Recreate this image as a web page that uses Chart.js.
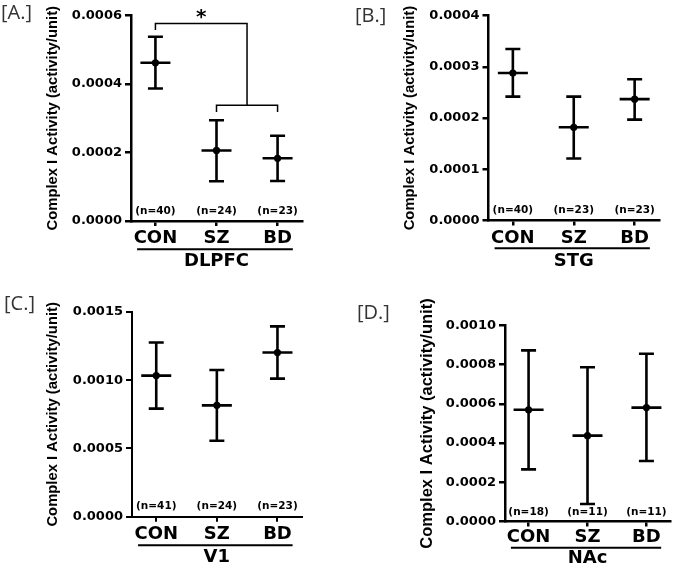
<!DOCTYPE html>
<html>
<head>
<meta charset="utf-8">
<script src="https://cdn.jsdelivr.net/npm/chart.js@4/dist/chart.umd.min.js"></script>
<style>
  html, body { margin: 0; padding: 0; background: #fff; }
  #wrap { position: relative; width: 674px; height: 564px; overflow: hidden; }
  .panel { position: absolute; width: 337px; height: 282px; }
  .tag { position: absolute; font-family: "Open Sans", sans-serif; font-size: 20px; line-height: 20px; color: #333; white-space: nowrap; }
</style>
</head>
<body>
<div id="wrap">
  <div class="panel" style="left:0;top:0"><canvas id="chartA" width="337" height="282"></canvas></div>
  <div class="panel" style="left:337px;top:0"><canvas id="chartB" width="337" height="282"></canvas></div>
  <div class="panel" style="left:0;top:282px"><canvas id="chartC" width="337" height="282"></canvas></div>
  <div class="panel" style="left:337px;top:282px"><canvas id="chartD" width="337" height="282"></canvas></div>
  <div class="tag" style="left:1px;top:2px">[A.]</div>
  <div class="tag" style="left:355px;top:5px">[B.]</div>
  <div class="tag" style="left:4px;top:293px">[C.]</div>
  <div class="tag" style="left:357px;top:302px">[D.]</div>
</div>
<script>
// data: mean +/- error per group, per brain region
var categories = ["CON", "SZ", "BD"];
var yTitle = "Complex I Activity (activity/unit)";

var dlpfcMean  = [0.000462, 0.000206, 0.000183];
var dlpfcUpper = [0.000538, 0.000294, 0.000249];
var dlpfcLower = [0.000387, 0.000116, 0.000117];
var dlpfcN     = ["(n=40)", "(n=24)", "(n=23)"];
var dlpfcTicks = [0, 0.0002, 0.0004, 0.0006];

var stgMean  = [0.000288, 0.000182, 0.000237];
var stgUpper = [0.000335, 0.000242, 0.000276];
var stgLower = [0.000242, 0.000121, 0.000197];
var stgN     = ["(n=40)", "(n=23)", "(n=23)"];
var stgTicks = [0, 0.0001, 0.0002, 0.0003, 0.0004];

var v1Mean  = [0.001034, 0.000816, 0.001203];
var v1Upper = [0.001276, 0.001075, 0.001395];
var v1Lower = [0.000792, 0.000557, 0.001012];
var v1N     = ["(n=41)", "(n=24)", "(n=23)"];
var v1Ticks = [0, 0.0005, 0.0010, 0.0015];

var nacMean  = [0.000570, 0.000438, 0.000581];
var nacUpper = [0.000873, 0.000787, 0.000856];
var nacLower = [0.000266, 0.000089, 0.000309];
var nacN     = ["(n=18)", "(n=11)", "(n=11)"];
var nacTicks = [0, 0.0002, 0.0004, 0.0006, 0.0008, 0.0010];

// significance bracket in DLPFC: CON vs (SZ, BD)
var sigTopY = 0.000577;
var sigConDropY = 0.000558;
var sigPairY = 0.000338;
var sigPairDropY = 0.000318;

var BOLD = "'DejaVu Sans', sans-serif";

function makeDecor(p) {
  return {
    id: "decor" + p.id,
    afterDatasetsDraw: function (chart) {
      var xs = chart.scales.x, ys = chart.scales.y, ctx = chart.ctx;
      ctx.save();
      ctx.strokeStyle = "#000";
      ctx.lineWidth = 2.6;
      p.mean.forEach(function (m, i) {
        var x = xs.getPixelForValue(i);
        var yHi = ys.getPixelForValue(p.upper[i]);
        var yLo = ys.getPixelForValue(p.lower[i]);
        var yM = ys.getPixelForValue(m);
        ctx.beginPath();
        ctx.moveTo(x, yHi); ctx.lineTo(x, yLo);
        ctx.moveTo(x - 7.5, yHi); ctx.lineTo(x + 7.5, yHi);
        ctx.moveTo(x - 7.5, yLo); ctx.lineTo(x + 7.5, yLo);
        ctx.moveTo(x - 15, yM); ctx.lineTo(x + 15, yM);
        ctx.stroke();
      });
      ctx.restore();
    },
    afterDraw: function (chart) {
      var xs = chart.scales.x, ys = chart.scales.y, ctx = chart.ctx;
      var bottom = chart.chartArea.bottom;
      ctx.save();
      ctx.fillStyle = "#000";
      ctx.textAlign = "center";
      ctx.textBaseline = "middle";
      ctx.font = "bold 10.5px " + BOLD;
      p.n.forEach(function (t, i) {
        ctx.fillText(t, xs.getPixelForValue(i), bottom - p.nOff);
      });
      // group underline + region name
      ctx.strokeStyle = "#000";
      ctx.lineWidth = 2;
      ctx.beginPath();
      ctx.moveTo(xs.getPixelForValue(-0.3), bottom + p.lineOff);
      ctx.lineTo(xs.getPixelForValue(2.25), bottom + p.lineOff);
      ctx.stroke();
      ctx.font = "bold 18px " + BOLD;
      ctx.fillText(p.group, xs.getPixelForValue(1), bottom + p.groupOff);
      if (p.sig) {
        ctx.lineWidth = 1.5;
        var yt = ys.getPixelForValue(sigTopY);
        var yp = ys.getPixelForValue(sigPairY);
        ctx.beginPath();
        ctx.moveTo(xs.getPixelForValue(0), ys.getPixelForValue(sigConDropY));
        ctx.lineTo(xs.getPixelForValue(0), yt);
        ctx.lineTo(xs.getPixelForValue(1.5), yt);
        ctx.lineTo(xs.getPixelForValue(1.5), yp);
        ctx.moveTo(xs.getPixelForValue(1), ys.getPixelForValue(sigPairDropY));
        ctx.lineTo(xs.getPixelForValue(1), yp);
        ctx.lineTo(xs.getPixelForValue(2), yp);
        ctx.lineTo(xs.getPixelForValue(2), ys.getPixelForValue(sigPairDropY));
        ctx.stroke();
        ctx.font = "bold 20px " + BOLD;
        ctx.textBaseline = "alphabetic";
        ctx.fillText("*", xs.getPixelForValue(0.75), yt - 0.5);
      }
      ctx.restore();
    }
  };
}

function build(p) {
  var W = 337, H = 282, xH = 40;
  new Chart(document.getElementById(p.canvas), {
    type: "scatter",
    data: {
      datasets: [{
        data: p.mean.map(function (m, i) { return { x: i, y: m }; }),
        pointRadius: 3.6,
        pointBackgroundColor: "#000",
        pointBorderWidth: 0
      }]
    },
    options: {
      responsive: false,
      animation: false,
      events: [],
      layout: { padding: { left: 0, top: p.area.top, right: W - p.area.right, bottom: H - p.area.bottom - xH } },
      plugins: { legend: { display: false }, tooltip: { enabled: false } },
      scales: {
        x: {
          type: "linear",
          min: -0.4,
          max: 2.4,
          afterBuildTicks: function (s) { s.ticks = [0, 1, 2].map(function (v) { return { value: v }; }); },
          afterFit: function (s) { s.height = xH; },
          ticks: {
            autoSkip: false, maxRotation: 0, color: "#000", padding: p.catPad,
            font: { family: BOLD, weight: "bold", size: 18 },
            callback: function (v) { return categories[v]; }
          },
          grid: { drawOnChartArea: false, drawTicks: true, tickLength: 5, color: "#000", lineWidth: p.axisW },
          border: { color: "#000", width: p.axisW }
        },
        y: {
          type: "linear",
          min: 0,
          max: p.ticks[p.ticks.length - 1],
          afterBuildTicks: function (s) { s.ticks = p.ticks.map(function (v) { return { value: v }; }); },
          afterFit: function (s) { s.width = p.area.left; },
          ticks: {
            color: "#000", padding: 3,
            font: { family: BOLD, weight: "bold", size: 13 },
            callback: function (v) { return v.toFixed(4); }
          },
          grid: { drawOnChartArea: false, drawTicks: true, tickLength: 6, color: "#000", lineWidth: p.axisW },
          border: { color: "#000", width: p.axisW },
          title: {
            display: true, text: yTitle, color: "#000",
            font: { family: "'Liberation Sans', Arial, sans-serif", weight: "bold", size: p.titleSize },
            padding: { top: p.titleX - p.titleSize * 0.6, bottom: 0 }
          }
        }
      }
    },
    plugins: [makeDecor(p)]
  });
}

build({ id: "A", canvas: "chartA", mean: dlpfcMean, upper: dlpfcUpper, lower: dlpfcLower, n: dlpfcN, ticks: dlpfcTicks,
  group: "DLPFC", sig: true, area: { left: 131, right: 302, top: 15.5, bottom: 221 },
  axisW: 2.5, catPad: 2, nOff: 10, lineOff: 28.3, groupOff: 40.5, titleX: 52.5, titleSize: 14.8 });
build({ id: "B", canvas: "chartB", mean: stgMean, upper: stgUpper, lower: stgLower, n: stgN, ticks: stgTicks,
  group: "STG", sig: false, area: { left: 151.5, right: 322, top: 15.7, bottom: 220.5 },
  axisW: 2.5, catPad: 2, nOff: 10, lineOff: 27.8, groupOff: 40.5, titleX: 73.3, titleSize: 14.8 });
build({ id: "C", canvas: "chartC", mean: v1Mean, upper: v1Upper, lower: v1Lower, n: v1N, ticks: v1Ticks,
  group: "V1", sig: false, area: { left: 132, right: 301.7, top: 30, bottom: 234.7 },
  axisW: 2, catPad: 2, nOff: 10, lineOff: 28.6, groupOff: 40.8, titleX: 52.5, titleSize: 14.8 });
build({ id: "D", canvas: "chartD", mean: nacMean, upper: nacUpper, lower: nacLower, n: nacN, ticks: nacTicks,
  group: "NAc", sig: false, area: { left: 168, right: 337, top: 43.5, bottom: 239.5 },
  axisW: 2.5, catPad: 0, nOff: 9, lineOff: 26.2, groupOff: 37, titleX: 90, titleSize: 16.5 });
</script>
</body>
</html>
